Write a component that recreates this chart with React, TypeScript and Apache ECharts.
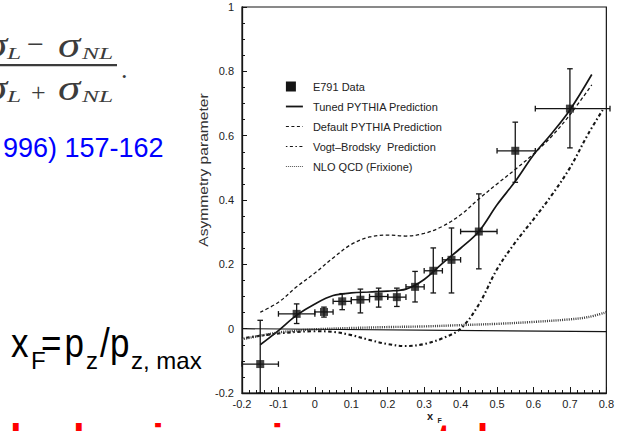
import React, { useEffect, useRef } from "react";
import * as echarts from "echarts";

// ---------- data ----------
const xTicks = [-0.2, 0.8, 0.1];
const yTicks = [-0.2, 1, 0.2];

// E791 data points with error bars
const dataX = [-0.15, -0.05, 0.025, 0.075, 0.125, 0.175, 0.225, 0.275, 0.325, 0.375, 0.45, 0.55, 0.7];
const dataY = [-0.11, 0.046, 0.052, 0.085, 0.09, 0.1, 0.098, 0.13, 0.18, 0.214, 0.302, 0.553, 0.684];
const xLow = [-0.2, -0.1, 0.0, 0.05, 0.1, 0.15, 0.2, 0.25, 0.3, 0.35, 0.4, 0.5, 0.605];
const xHigh = [-0.1, 0.0, 0.05, 0.1, 0.15, 0.2, 0.25, 0.3, 0.35, 0.4, 0.5, 0.605, 0.81];
const yLow = [-0.2, 0.016, 0.036, 0.059, 0.049, 0.067, 0.069, 0.083, 0.111, 0.111, 0.186, 0.455, 0.562];
const yHigh = [0.026, 0.077, 0.067, 0.109, 0.123, 0.126, 0.126, 0.178, 0.251, 0.313, 0.419, 0.642, 0.808];

// Tuned PYTHIA (solid)
const tunedX = [-0.15, -0.1, -0.05, 0, 0.05, 0.1, 0.15, 0.2, 0.25, 0.3, 0.35, 0.4, 0.45, 0.5, 0.55, 0.6, 0.65, 0.7, 0.76];
const tunedY = [-0.05, -0.006, 0.042, 0.077, 0.103, 0.111, 0.114, 0.117, 0.123, 0.153, 0.203, 0.25, 0.302, 0.385, 0.458, 0.54, 0.607, 0.68, 0.79];

// Default PYTHIA (dashed)
const defX = [-0.15, -0.1, -0.05, 0, 0.05, 0.1, 0.15, 0.2, 0.25, 0.3, 0.35, 0.4, 0.45, 0.5, 0.55, 0.6, 0.65, 0.7, 0.76];
const defY = [0.051, 0.082, 0.13, 0.173, 0.22, 0.262, 0.285, 0.291, 0.288, 0.296, 0.318, 0.354, 0.403, 0.45, 0.495, 0.543, 0.598, 0.665, 0.758];

// Vogt-Brodsky (heavy dash-dot)
const vbX = [-0.2, -0.1, 0, 0.05, 0.1, 0.15, 0.2, 0.25, 0.3, 0.35, 0.4, 0.45, 0.5, 0.55, 0.6, 0.65, 0.7, 0.75, 0.79];
const vbY = [-0.03, -0.015, -0.008, -0.01, -0.02, -0.035, -0.048, -0.054, -0.048, -0.03, 0.0, 0.075, 0.185, 0.268, 0.34, 0.415, 0.5, 0.605, 0.68];

// NLO QCD (fine dotted)
const nloX = [-0.2, -0.15, -0.1, -0.05, 0, 0.1, 0.2, 0.3, 0.4, 0.5, 0.6, 0.7, 0.75, 0.8];
const nloY = [-0.033, -0.022, -0.012, -0.006, -0.002, 0.002, 0.005, 0.007, 0.011, 0.015, 0.021, 0.029, 0.036, 0.051];

const zeroLine = [[-0.2, 0.0], [0.8, -0.009]];

const seriesNames = [
  "E791 Data",
  "Tuned PYTHIA Prediction",
  "Default PYTHIA Prediction",
  "Vogt–Brodsky  Prediction",
  "NLO QCD (Frixione)",
];

// ---------- helpers ----------
const SANS = "'Liberation Sans', Arial, sans-serif";
const SERIF = "'Liberation Serif', 'Times New Roman', serif";

function txt(
  text: string,
  x: number,
  baseline: number,
  size: number,
  opts: { family?: string; weight?: string; style?: string; fill?: string; scaleX?: number; scaleY?: number; k?: number } = {}
) {
  const k = opts.k ?? 0.35;
  return {
    type: "text",
    x,
    y: baseline,
    scaleX: opts.scaleX ?? 1,
    scaleY: opts.scaleY ?? 1,
    silent: true,
    style: {
      text,
      x: 0,
      y: -k * size,
      fill: opts.fill ?? "#000",
      font: `${opts.style ?? "normal"} ${opts.weight ?? "normal"} ${size}px ${opts.family ?? SANS}`,
      textAlign: "left",
      align: "left",
      textVerticalAlign: "middle",
      verticalAlign: "middle",
    },
  };
}

function zip(a: number[], b: number[]) {
  return a.map((v, i) => [v, b[i]]);
}

export default function App() {
  const ref = useRef<HTMLDivElement>(null);

  useEffect(() => {
    if (!ref.current) return;
    const chart = echarts.init(ref.current, undefined, { renderer: "svg" });

    const ink = "#151515";
    const gray = "#3c3c3c";

    const errData = dataX.map((x, i) => [x, dataY[i], xLow[i], xHigh[i], yLow[i], yHigh[i]]);

    const formula = (base: number, op: string, opY: number, opSize: number, opX: number) => [
      txt("σ", -15, base, 36, { family: SERIF, style: "italic", fill: gray, scaleX: 1.25, k: 0.34 }),
      txt("L", 7, base + 2, 17, { family: SERIF, style: "italic", fill: gray, scaleX: 1.5, k: 0.34 }),
      {
        type: "text",
        x: opX,
        y: opY,
        silent: true,
        style: {
          text: op,
          x: 0,
          y: 0,
          fill: gray,
          font: `normal normal ${opSize}px ${SERIF}`,
          textAlign: "left",
          align: "left",
          textVerticalAlign: "middle",
          verticalAlign: "middle",
        },
      },
      txt("σ", 58, base, 36, { family: SERIF, style: "italic", fill: gray, scaleX: 1.25, k: 0.34 }),
      txt("NL", 82, base + 2, 17, { family: SERIF, style: "italic", fill: gray, scaleX: 1.5, k: 0.34 }),
    ];

    const graphics: any[] = [
      // formula fragment (top-left)
      ...formula(57, "−", 43, 30, 27),
      { type: "rect", silent: true, shape: { x: 0, y: 64, width: 117, height: 2.2 }, style: { fill: gray } },
      ...formula(100, "+", 92, 26, 31),
      txt(".", 121, 78, 26, { family: SERIF, fill: gray, k: 0.34 }),
      // blue reference
      txt("996) 157-162", 3, 157, 27, { fill: "#0000ff" }),
      // x_F definition
      txt("x", 11, 357, 35, { scaleY: 1.15 }),
      txt("F", 31, 369, 24),
      txt("=", 41, 357, 35, { scaleY: 1.15 }),
      txt("p", 64.5, 357, 35, { scaleY: 1.15 }),
      txt("z", 86, 369, 24),
      txt("/", 100, 357, 35, { scaleY: 1.15 }),
      txt("p", 110, 357, 35, { scaleY: 1.15 }),
      txt("z, max", 131, 369, 24),
      // red heading (cut by the bottom edge)
      txt("hadronic environment does a", 10, 454, 42, { weight: "bold", fill: "#ff0000" }),
      // y axis name
      {
        type: "text",
        x: 203,
        y: 170,
        rotation: Math.PI / 2,
        scaleX: 1.2,
        silent: true,
        style: {
          text: "Asymmetry parameter",
          x: 0,
          y: 0,
          fill: "#333",
          font: `normal normal 13px ${SANS}`,
          textAlign: "center",
          align: "center",
          textVerticalAlign: "middle",
          verticalAlign: "middle",
        },
      },
      // x axis name
      txt("x", 427, 420, 11, { weight: "bold", fill: "#222" }),
      txt("F", 437.5, 422.5, 7, { weight: "bold", fill: "#222" }),
    ];

    const hidden = { opacity: 0 };

    const option: any = {
      animation: false,
      backgroundColor: "#fff",
      grid: {
        left: 242,
        right: 5,
        top: 7,
        bottom: 38,
        show: true,
        borderColor: ink,
        borderWidth: 1.2,
        backgroundColor: "transparent",
      },
      legend: {
        orient: "vertical",
        left: 280,
        top: 76,
        itemWidth: 17,
        itemHeight: 10,
        itemGap: 9,
        selectedMode: false,
        textStyle: { fontSize: 11, color: "#222", fontFamily: SANS, padding: [0, 0, 0, 5] },
        data: [
          { name: seriesNames[0], icon: "square", itemStyle: { color: ink, opacity: 1 } },
          { name: seriesNames[1], itemStyle: hidden, lineStyle: { width: 1.8, color: ink, type: "solid" } },
          { name: seriesNames[2], itemStyle: hidden, lineStyle: { width: 1.2, color: ink, type: [3, 2.5] } },
          { name: seriesNames[3], itemStyle: hidden, lineStyle: { width: 1.2, color: ink, type: [1.5, 2.5, 3, 2.5] } },
          { name: seriesNames[4], itemStyle: hidden, lineStyle: { width: 1, color: "#555", type: [1, 1] } },
        ],
      },
      xAxis: {
        type: "value",
        min: xTicks[0],
        max: xTicks[1],
        interval: xTicks[2],
        axisLine: { show: true, onZero: false, lineStyle: { color: ink, width: 1.3 } },
        axisTick: { show: true, inside: true, length: 6, lineStyle: { color: ink, width: 1 } },
        minorTick: { show: true, splitNumber: 5, length: 3, lineStyle: { color: ink, width: 1 } },
        splitLine: { show: false },
        axisLabel: { margin: 5, fontSize: 11, lineHeight: 11, color: "#222", fontFamily: SANS },
      },
      yAxis: {
        type: "value",
        min: yTicks[0],
        max: yTicks[1],
        interval: yTicks[2],
        axisLine: { show: true, onZero: false, lineStyle: { color: ink, width: 1.3 } },
        axisTick: { show: true, inside: true, length: 5, lineStyle: { color: ink, width: 1 } },
        minorTick: { show: true, splitNumber: 4, length: 3, lineStyle: { color: ink, width: 1 } },
        splitLine: { show: false },
        axisLabel: { margin: 8, fontSize: 11, color: "#222", fontFamily: SANS },
      },
      series: [
        {
          name: "errors",
          type: "custom",
          silent: true,
          z: 4,
          data: errData,
          renderItem: (_p: any, api: any) => {
            const x = api.value(0), y = api.value(1);
            const pL = api.coord([api.value(2), y]);
            const pR = api.coord([api.value(3), y]);
            const pB = api.coord([x, api.value(4)]);
            const pT = api.coord([x, api.value(5)]);
            const c = 2.8;
            const st = { stroke: ink, lineWidth: 1.3, fill: "none" };
            const ln = (x1: number, y1: number, x2: number, y2: number) => ({
              type: "line",
              shape: { x1, y1, x2, y2 },
              style: st,
            });
            return {
              type: "group",
              children: [
                ln(pL[0], pL[1], pR[0], pR[1]),
                ln(pB[0], pB[1], pT[0], pT[1]),
                ln(pL[0], pL[1] - c, pL[0], pL[1] + c),
                ln(pR[0], pR[1] - c, pR[0], pR[1] + c),
                ln(pT[0] - c, pT[1], pT[0] + c, pT[1]),
                ln(pB[0] - c, pB[1], pB[0] + c, pB[1]),
              ],
            };
          },
        },
        {
          name: seriesNames[0],
          type: "scatter",
          symbol: "rect",
          symbolSize: 8,
          z: 5,
          itemStyle: { color: ink },
          data: zip(dataX, dataY),
        },
        {
          name: seriesNames[1],
          type: "line",
          smooth: 0.35,
          symbol: "none",
          z: 3,
          itemStyle: { color: ink },
          lineStyle: { color: ink, width: 1.7, type: "solid" },
          data: zip(tunedX, tunedY),
        },
        {
          name: seriesNames[2],
          type: "line",
          smooth: 0.35,
          symbol: "none",
          z: 3,
          itemStyle: { color: ink },
          lineStyle: { color: ink, width: 1.3, type: [3.5, 2.5] },
          data: zip(defX, defY),
        },
        {
          name: seriesNames[3],
          type: "line",
          smooth: 0.35,
          symbol: "none",
          z: 3,
          itemStyle: { color: ink },
          lineStyle: { color: ink, width: 2.1, type: [1.6, 2.6, 3.5, 2.6] },
          data: zip(vbX, vbY),
        },
        {
          name: seriesNames[4],
          type: "line",
          smooth: 0.35,
          symbol: "none",
          z: 3,
          itemStyle: { color: "#3a3a3a" },
          lineStyle: { color: "#3a3a3a", width: 2.4, type: [1, 1.2] },
          data: zip(nloX, nloY),
          markLine: {
            silent: true,
            symbol: "none",
            label: { show: false },
            lineStyle: { color: ink, width: 1.2, type: "solid" },
            data: [[{ coord: zeroLine[0] }, { coord: zeroLine[1] }]],
          },
        },
      ],
      graphic: graphics,
    };

    chart.setOption(option);
    return () => chart.dispose();
  }, []);

  return (
    <div
      ref={ref}
      style={{ position: "absolute", left: 0, top: 0, width: 617, height: 431, background: "#fff" }}
    />
  );
}
